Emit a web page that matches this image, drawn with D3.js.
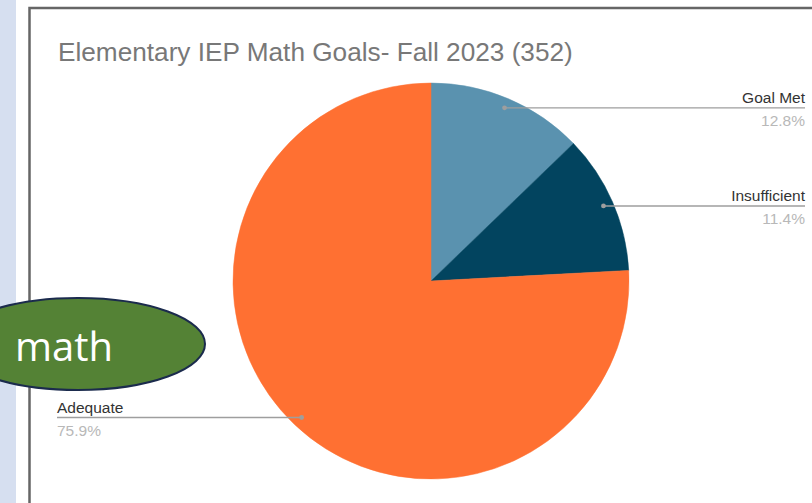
<!DOCTYPE html>
<html>
<head>
<meta charset="utf-8">
<script src="https://cdn.jsdelivr.net/npm/d3@7"></script>
<style>
  body { margin: 0; background: #fff; }
  svg { display: block; font-family: "Liberation Sans", Arial, sans-serif; }
</style>
</head>
<body>
<div id="chart"></div>
<script>
// data (352 goals)
const categories = [`Goal Met`, `Insufficient`, `Adequate`];
const counts = [45, 40, 267];
const percentLabels = [`12.8%`, `11.4%`, `75.9%`];
const colors = [`#5a92af`, `#02445f`, `#ff7032`];
const title = `Elementary IEP Math Goals- Fall 2023 (352)`;

const width = 812;
const height = 503;
const cx = 431, cy = 281, radius = 198;

const svg = d3.select(`#chart`)
  .append(`svg`)
    .attr(`width`, width)
    .attr(`height`, height);

// slide background strip + chart frame
svg.append(`rect`)
  .attr(`x`, 0).attr(`y`, 0)
  .attr(`width`, 16).attr(`height`, height)
  .attr(`fill`, `#d6dff0`);

svg.append(`path`)
  .attr(`d`, `M29.5,${height} V8 H${width}`)
  .attr(`fill`, `none`)
  .attr(`stroke`, `#666`)
  .attr(`stroke-width`, 2.5);

svg.append(`text`)
  .attr(`x`, 58)
  .attr(`y`, 61)
  .attr(`font-size`, 26.2)
  .attr(`fill`, `#787878`)
  .text(title);

const pie = d3.pie().sort(null).value(d => d);
const arcs = pie(counts);
const arc = d3.arc().innerRadius(0).outerRadius(radius);
const dotArc = d3.arc().innerRadius(radius * 0.95).outerRadius(radius * 0.95);

const g = svg.append(`g`)
  .attr(`transform`, `translate(${cx},${cy})`);

g.selectAll(`.slice`)
  .data(arcs)
  .enter().append(`path`)
    .attr(`class`, `slice`)
    .attr(`d`, arc)
    .attr(`fill`, (d, i) => colors[i])
    .attr(`stroke`, (d, i) => colors[i])
    .attr(`stroke-width`, 0.5);

// label lines: right side labels end at x=805, left side starts at x=57
const labelX = {right: 805, left: 57};

arcs.forEach((d, i) => {
  const [dx, dy] = dotArc.centroid(d);
  const px = cx + dx;
  const py = cy + dy;
  const mid = (d.startAngle + d.endAngle) / 2;
  const right = mid < Math.PI;
  const endX = right ? labelX.right : labelX.left;

  svg.append(`line`)
    .attr(`x1`, px).attr(`y1`, py)
    .attr(`x2`, endX).attr(`y2`, py)
    .attr(`stroke`, `#9e9e9e`)
    .attr(`stroke-width`, 1.4);

  svg.append(`circle`)
    .attr(`cx`, px).attr(`cy`, py)
    .attr(`r`, 2.4)
    .attr(`fill`, `#9e9e9e`);

  svg.append(`text`)
    .attr(`x`, endX)
    .attr(`y`, py - 5)
    .attr(`text-anchor`, right ? `end` : `start`)
    .attr(`font-size`, 15.5)
    .attr(`fill`, `#333`)
    .text(categories[i]);

  svg.append(`text`)
    .attr(`x`, endX)
    .attr(`y`, py + 18)
    .attr(`text-anchor`, right ? `end` : `start`)
    .attr(`font-size`, 15.5)
    .attr(`fill`, `#b8b8b8`)
    .text(percentLabels[i]);
});

// overlaid "math" callout shape from the slide
svg.append(`ellipse`)
  .attr(`cx`, 78).attr(`cy`, 344)
  .attr(`rx`, 127).attr(`ry`, 46)
  .attr(`fill`, `#548235`)
  .attr(`stroke`, `#1b2b4d`)
  .attr(`stroke-width`, 2);

svg.append(`text`)
  .attr(`x`, 15)
  .attr(`y`, 361)
  .attr(`font-family`, `"Open Sans", "Noto Sans", sans-serif`)
  .attr(`font-size`, 40)
  .attr(`fill`, `#fff`)
  .text(`math`);
</script>
</body>
</html>
